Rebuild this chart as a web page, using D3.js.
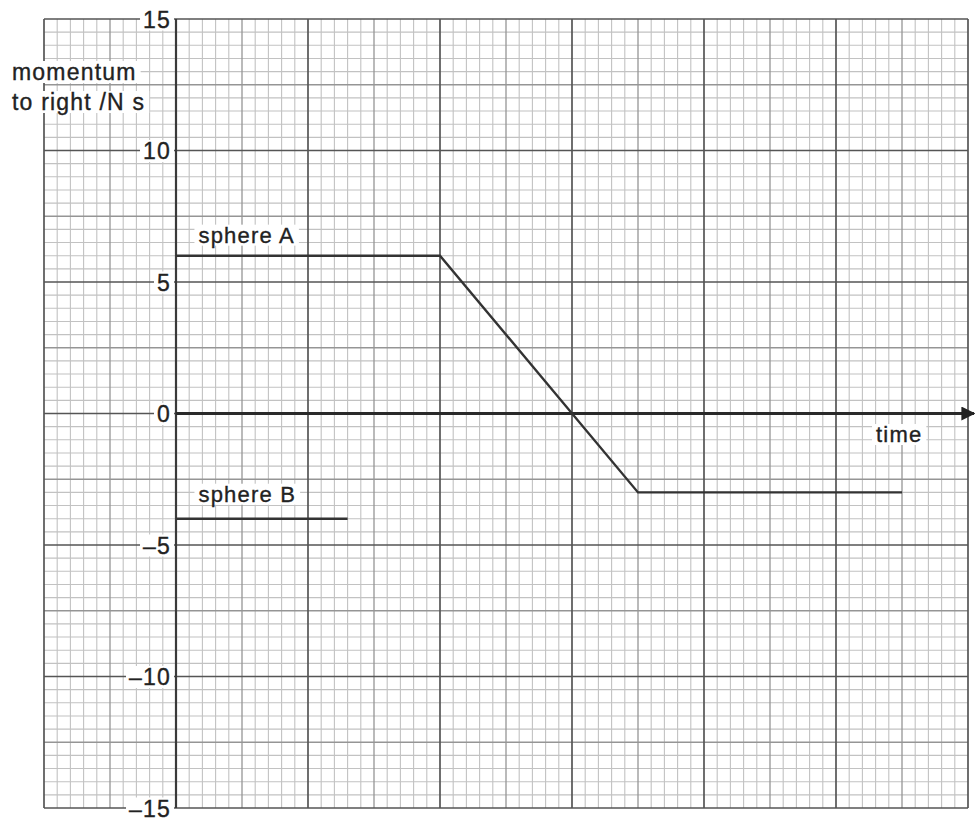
<!DOCTYPE html>
<html>
<head>
<meta charset="utf-8">
<script src="https://cdn.jsdelivr.net/npm/d3@7"></script>
<style>
  body { margin: 0; background: #fff; }
  svg { display: block; }
  text { font-family: "Liberation Sans", Arial, sans-serif; fill: #222; stroke: #222; stroke-width: 0.35px; }
</style>
</head>
<body>
<div id="chart"></div>
<script>
// === DATA ===
// time in small squares (10 per large square), momentum in N s
const sphereA = [[0, 6], [20, 6], [35, -3], [55, -3]];
const sphereB = [[0, -4], [13, -4]];
const yTicks = [15, 10, 5, 0, -5, -10, -15];
const seriesLabels = [
  { text: "sphere A", t: 1.7, p: 6.8 },
  { text: "sphere B", t: 1.7, p: -3.05 }
];

const W = 975, H = 821;

// === SCALES ===
const x = d3.scaleLinear().domain([-10, 60]).range([44, 968]);
const y = d3.scaleLinear().domain([-15, 15]).range([808, 19]);

const svg = d3.select("#chart").append("svg")
    .attr("width", W)
    .attr("height", H);

// === GRID ===
const grid = svg.append("g");
const xs = d3.range(-10, 61, 1);
const ys = d3.range(-15, 15.01, 0.5);

function level(v, major, mid) {
    const r = Math.round(v * 100) / 100;
    if (Math.abs(r % major) < 1e-6) return 2;
    if (Math.abs(r % mid) < 1e-6) return 1;
    return 0;
}
const gStroke = ["#c2c2c2", "#959595", "#555"];
const gWidth = [1.1, 1.3, 1.7];

// draw minor first, majors on top
[0, 1, 2].forEach(lv => {
    grid.selectAll(null)
        .data(xs.filter(v => level(v, 10, 5) === lv))
        .join("line")
        .attr("x1", d => x(d)).attr("x2", d => x(d))
        .attr("y1", y(15)).attr("y2", y(-15))
        .attr("stroke", gStroke[lv]).attr("stroke-width", gWidth[lv]);
    grid.selectAll(null)
        .data(ys.filter(v => level(v, 5, 2.5) === lv))
        .join("line")
        .attr("x1", x(-10)).attr("x2", x(60))
        .attr("y1", d => y(d)).attr("y2", d => y(d))
        .attr("stroke", gStroke[lv]).attr("stroke-width", gWidth[lv]);
});

// === AXES ===
svg.append("line")
    .attr("x1", x(0)).attr("x2", x(0))
    .attr("y1", y(15)).attr("y2", y(-15))
    .attr("stroke", "#3a3a3a").attr("stroke-width", 2.2);

svg.append("defs").append("marker")
    .attr("id", "arrow")
    .attr("viewBox", "0 0 10 10")
    .attr("refX", 9).attr("refY", 5)
    .attr("markerWidth", 5).attr("markerHeight", 5)
    .attr("markerUnits", "strokeWidth")
    .attr("orient", "auto")
    .append("path")
    .attr("d", "M0,0 L10,5 L0,10 Z")
    .attr("fill", "#222");

svg.append("line")
    .attr("x1", x(0)).attr("x2", W - 1)
    .attr("y1", y(0)).attr("y2", y(0))
    .attr("stroke", "#2a2a2a").attr("stroke-width", 2.8)
    .attr("marker-end", "url(#arrow)");

// label with white box behind it
function boxedText(tx, ty, str, anchor, pad, size) {
    const g = svg.append("g");
    const t = g.append("text")
        .attr("x", tx).attr("y", ty)
        .attr("font-size", size)
        .attr("letter-spacing", 1.2)
        .attr("text-anchor", anchor)
        .text(str);
    const b = t.node().getBBox();
    g.insert("rect", "text")
        .attr("x", b.x - pad).attr("y", b.y + 2)
        .attr("width", b.width + 2 * pad).attr("height", b.height - 4)
        .attr("fill", "#fff");
    return g;
}

// y tick labels
yTicks.forEach(v => {
    const str = v < 0 ? "\u2013" + Math.abs(v) : String(v);
    boxedText(x(0) - 5, y(v) + 8.5, str, "end", 3, 23);
});

// axis titles
boxedText(12, 80, "momentum", "start", 4, 23);
boxedText(12, 110, "to right /N s", "start", 4, 23);
boxedText(876, 442, "time", "start", 4, 22);

// === DATA LINES ===
const line = d3.line().x(d => x(d[0])).y(d => y(d[1]));

[sphereA, sphereB].forEach(s => {
    svg.append("path")
        .datum(s)
        .attr("d", line)
        .attr("fill", "none")
        .attr("stroke", "#333")
        .attr("stroke-width", 2.4);
});

seriesLabels.forEach(l => {
    boxedText(x(l.t), y(l.p) + 8, l.text, "start", 4, 22);
});
</script>
</body>
</html>
